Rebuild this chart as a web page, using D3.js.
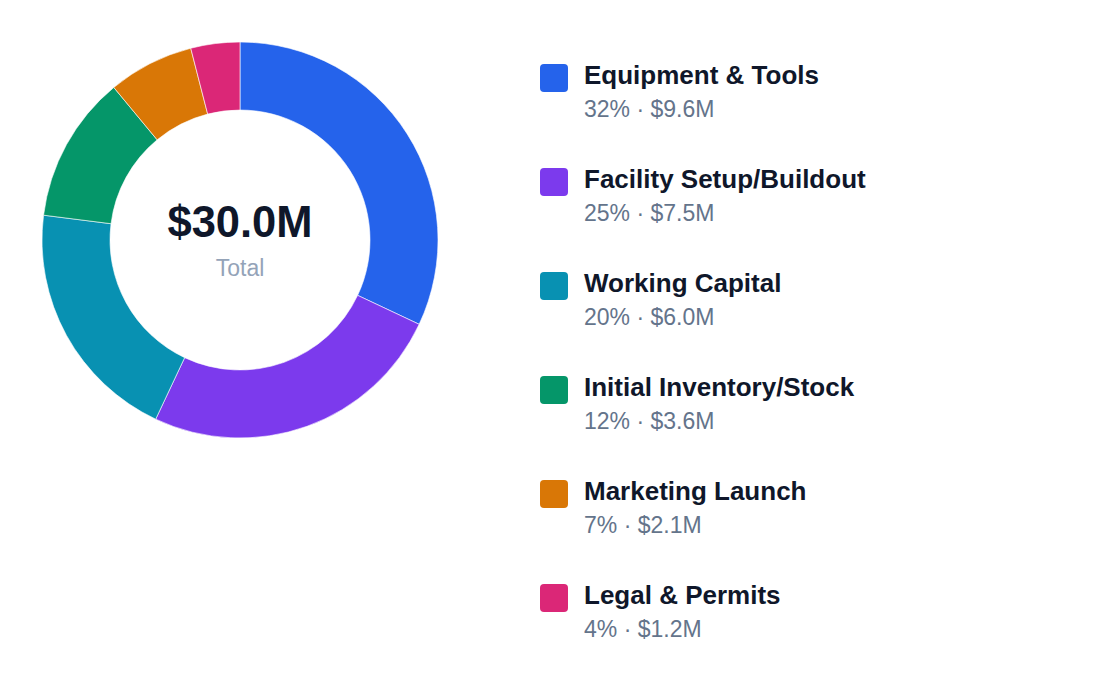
<!DOCTYPE html>
<html>
<head>
<meta charset="utf-8">
<script src="https://cdn.jsdelivr.net/npm/d3@7"></script>
<style>
  html, body { margin: 0; padding: 0; background: #fff; }
  svg { display: block; font-family: "Liberation Sans", Arial, Helvetica, sans-serif; }
</style>
</head>
<body>
<div class="canvas"></div>
<script>
// data
const categories = ['Equipment & Tools', 'Facility Setup/Buildout', 'Working Capital',
  'Initial Inventory/Stock', 'Marketing Launch', 'Legal & Permits'];
const amounts = [9.6, 7.5, 6.0, 3.6, 2.1, 1.2]; // $M
const percents = [32, 25, 20, 12, 7, 4];
const colors = ['#2563eb', '#7c3aed', '#0891b2', '#059669', '#d97706', '#db2777'];
const totalLabel = '$30.0M';

const width = 1120, height = 696;

const svg = d3.select('.canvas').append('svg')
    .attr('width', width)
    .attr('height', height);

// donut
const cx = 240, cy = 240;
const outerR = 198, innerR = 130;

const pie = d3.pie().sort(null).value(d => d);
const arc = d3.arc().innerRadius(innerR).outerRadius(outerR);

const donut = svg.append('g')
    .attr('transform', `translate(${cx}, ${cy})`);

donut.selectAll('path')
    .data(pie(amounts))
    .join('path')
    .attr('d', arc)
    .attr('fill', (d, i) => colors[i])
    .attr('stroke', '#fff')
    .attr('stroke-width', 0.6);

// center text
donut.append('text')
    .attr('text-anchor', 'middle')
    .attr('y', -3)
    .attr('font-size', 43.5)
    .attr('font-weight', 700)
    .attr('fill', '#0f172a')
    .text(totalLabel);

donut.append('text')
    .attr('text-anchor', 'middle')
    .attr('y', 36)
    .attr('font-size', 23)
    .attr('fill', '#94a3b8')
    .text('Total');

// legend
const legendY = d3.scalePoint()
    .domain(categories)
    .range([64, 584]);

const legend = svg.append('g');
const rows = legend.selectAll('g')
    .data(categories)
    .join('g')
    .attr('transform', d => `translate(540, ${legendY(d)})`);

rows.append('rect')
    .attr('width', 28)
    .attr('height', 28)
    .attr('rx', 4)
    .attr('fill', (d, i) => colors[i]);

rows.append('text')
    .attr('x', 44)
    .attr('y', 20)
    .attr('font-size', 26)
    .attr('font-weight', 700)
    .attr('fill', '#0f172a')
    .text(d => d);

rows.append('text')
    .attr('x', 44)
    .attr('y', 52.5)
    .attr('font-size', 23)
    .attr('fill', '#64748b')
    .text((d, i) => `${percents[i]}% · $${amounts[i].toFixed(1)}M`);
</script>
</body>
</html>
